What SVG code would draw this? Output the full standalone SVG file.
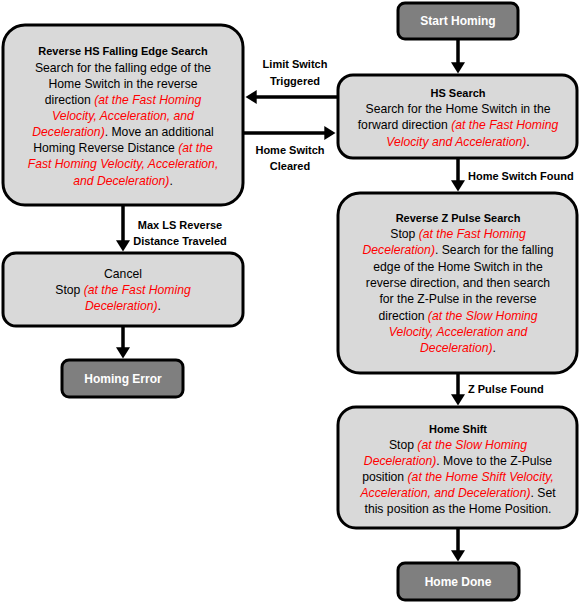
<svg xmlns="http://www.w3.org/2000/svg" width="581" height="603" viewBox="0 0 581 603">
<defs>
<marker id="ah" markerWidth="4" markerHeight="4" refX="2.2" refY="2" orient="auto" markerUnits="strokeWidth">
<path d="M0,0 L3.2,2 L0,4 Z" fill="#000"/>
</marker>
<style>
text{font-family:"Liberation Sans",Arial,sans-serif;font-size:12.2px;fill:#000;text-anchor:middle}
.t{font-weight:bold;font-size:11px}
.w{fill:#fff;font-weight:bold;font-size:12px}
.r{fill:#ff0000;font-style:italic}
.lbl{font-weight:bold;font-size:11px}
.big{fill:#d9d9d9;stroke:#000;stroke-width:3}
.dark{fill:#7f7f7f;stroke:#000;stroke-width:3}
.c line{stroke:#000;stroke-width:3.5;marker-end:url(#ah)}
</style>
</defs>
<rect width="581" height="603" fill="#fff"/>
<g class="c" id="connectors">
<line x1="458" y1="39" x2="458" y2="70"/>
<line x1="338" y1="97" x2="249" y2="97"/>
<line x1="243" y1="133" x2="332" y2="133"/>
<line x1="458" y1="158" x2="458" y2="188"/>
<line x1="458" y1="373" x2="458" y2="402"/>
<line x1="458" y1="528" x2="458" y2="558"/>
<line x1="123" y1="205" x2="123" y2="248"/>
<line x1="123" y1="326" x2="123" y2="355"/>
<text class="lbl" x="295" y="68">Limit Switch</text>
<text class="lbl" x="295" y="85">Triggered</text>
<text class="lbl" x="290" y="154">Home Switch</text>
<text class="lbl" x="290" y="170">Cleared</text>
<text class="lbl" x="468" y="180" style="text-anchor:start">Home Switch Found</text>
<text class="lbl" x="180" y="229">Max LS Reverse</text>
<text class="lbl" x="180" y="245">Distance Traveled</text>
<text class="lbl" x="468" y="393" style="text-anchor:start">Z Pulse Found</text>
</g>
<g id="start">
<rect class="dark" x="398" y="3" width="120" height="36" rx="7"/>
<text class="w" x="458" y="25">Start Homing</text>
</g>
<g id="hs-search">
<rect class="big" x="338" y="75" width="239" height="83" rx="15"/>
<text class="t" x="458" y="97">HS Search</text>
<text x="458" y="113">Search for the Home Switch in the</text>
<text x="458" y="129">forward direction <tspan class="r">(at the Fast Homing</tspan></text>
<text x="458" y="146"><tspan class="r">Velocity and Acceleration)</tspan>.</text>
</g>
<g id="reverse-hs">
<rect class="big" x="3" y="25" width="240" height="180" rx="22"/>
<text class="t" x="123" y="55">Reverse HS Falling Edge Search</text>
<text x="123" y="72">Search for the falling edge of the</text>
<text x="123" y="88">Home Switch in the reverse</text>
<text x="123" y="104">direction <tspan class="r">(at the Fast Homing</tspan></text>
<text x="123" y="120"><tspan class="r">Velocity, Acceleration, and</tspan></text>
<text x="123" y="136"><tspan class="r">Deceleration)</tspan>. Move an additional</text>
<text x="123" y="152">Homing Reverse Distance <tspan class="r">(at the</tspan></text>
<text x="123" y="168"><tspan class="r">Fast Homing Velocity, Acceleration,</tspan></text>
<text x="123" y="185"><tspan class="r">and Deceleration)</tspan>.</text>
</g>
<g id="cancel">
<rect class="big" x="3" y="253" width="240" height="73" rx="13"/>
<text x="123" y="278">Cancel</text>
<text x="123" y="294">Stop <tspan class="r">(at the Fast Homing</tspan></text>
<text x="123" y="310"><tspan class="r">Deceleration)</tspan>.</text>
</g>
<g id="homing-error">
<rect class="dark" x="62" y="360" width="121" height="37" rx="7"/>
<text class="w" x="123" y="383">Homing Error</text>
</g>
<g id="reverse-z">
<rect class="big" x="338" y="193" width="239" height="180" rx="22"/>
<text class="t" x="458" y="222">Reverse Z Pulse Search</text>
<text x="458" y="238">Stop <tspan class="r">(at the Fast Homing</tspan></text>
<text x="458" y="254"><tspan class="r">Deceleration)</tspan>. Search for the falling</text>
<text x="458" y="271">edge of the Home Switch in the</text>
<text x="458" y="287">reverse direction, and then search</text>
<text x="458" y="303">for the Z-Pulse in the reverse</text>
<text x="458" y="320">direction <tspan class="r">(at the Slow Homing</tspan></text>
<text x="458" y="336"><tspan class="r">Velocity, Acceleration and</tspan></text>
<text x="458" y="352"><tspan class="r">Deceleration)</tspan>.</text>
</g>
<g id="home-shift">
<rect class="big" x="338" y="407" width="239" height="121" rx="18"/>
<text class="t" x="458" y="433">Home Shift</text>
<text x="458" y="449">Stop <tspan class="r">(at the Slow Homing</tspan></text>
<text x="458" y="465"><tspan class="r">Deceleration)</tspan>. Move to the Z-Pulse</text>
<text x="458" y="481">position <tspan class="r">(at the Home Shift Velocity,</tspan></text>
<text x="458" y="497"><tspan class="r">Acceleration, and Deceleration)</tspan>. Set</text>
<text x="458" y="513">this position as the Home Position.</text>
</g>
<g id="home-done">
<rect class="dark" x="398" y="563" width="121" height="37" rx="7"/>
<text class="w" x="458" y="586">Home Done</text>
</g>
</svg>
